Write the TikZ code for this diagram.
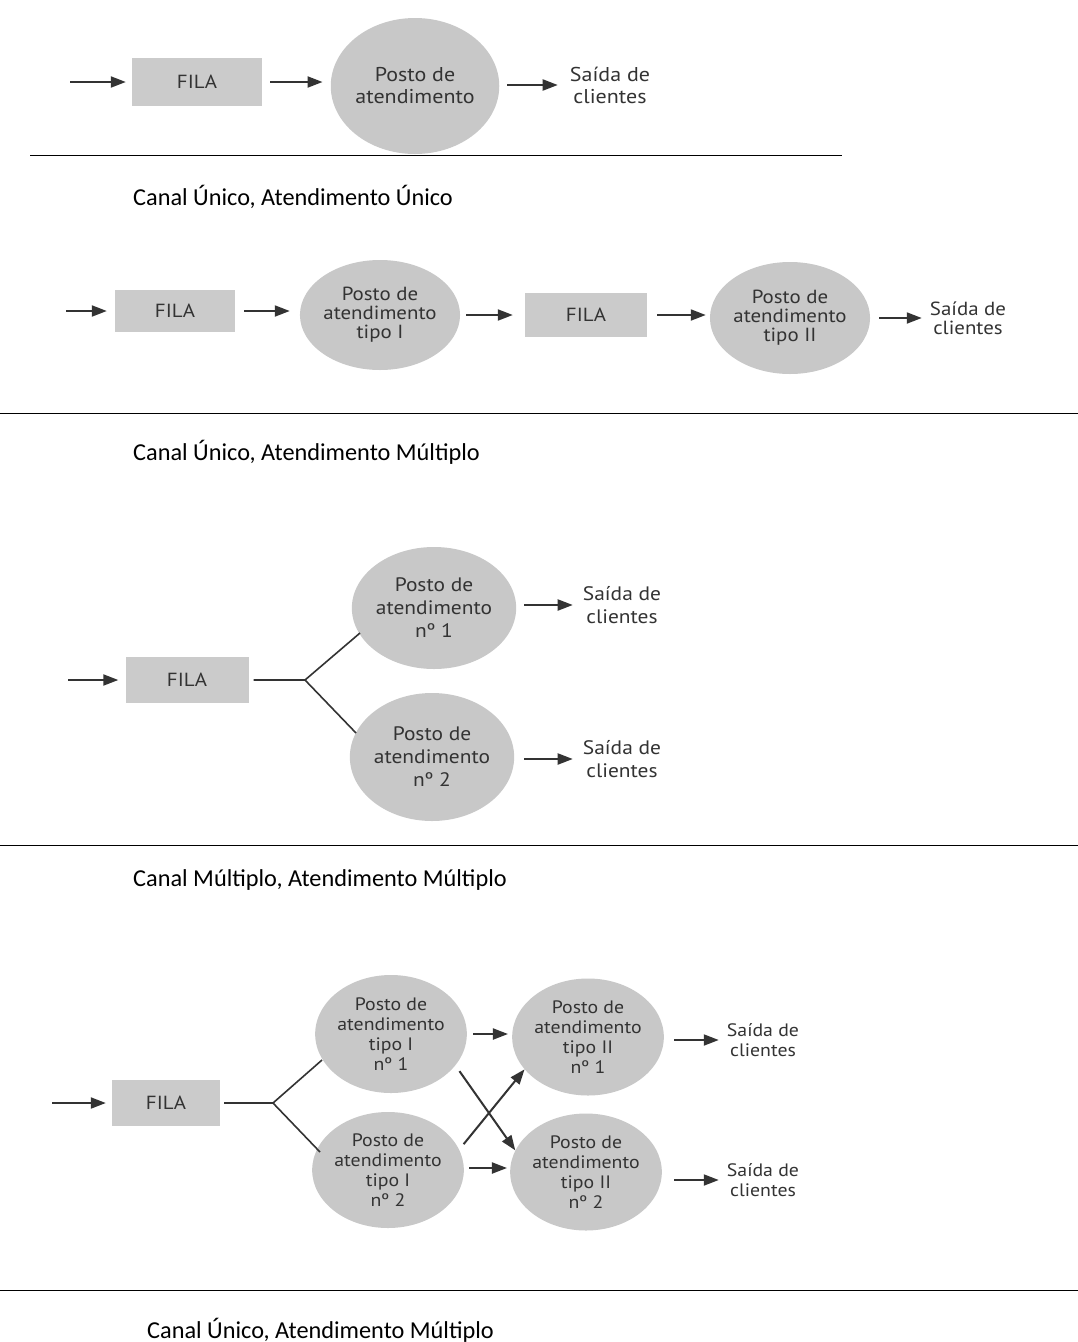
\documentclass[tikz,border=0pt]{standalone}
\usepackage{fontspec}
\setmainfont{Carlito}
\newfontfamily\dfont[FakeStretch=1.1]{PT Sans}
\usetikzlibrary{arrows.meta,shapes.geometric}
\definecolor{boxgray}{HTML}{CBCBCB}
\definecolor{ellgray}{HTML}{C8C8C8}
\definecolor{ink}{HTML}{333333}
\tikzset{
  x=1pt,y=-1pt,
  fila/.style={fill=boxgray,draw=none,inner sep=0pt,font=\dfont\fontsize{19}{20}\selectfont,text=ink},
  posto/.style={ellipse,fill=ellgray,draw=none,inner sep=0pt,align=center,text=ink},
  saida/.style={align=center,text=ink,inner sep=0pt},
  ftA/.style={font=\dfont\fontsize{20}{22}\selectfont},
  ftB/.style={font=\dfont\fontsize{19}{19}\selectfont},
  ftC/.style={font=\dfont\fontsize{19.5}{23}\selectfont},
  ftD/.style={font=\dfont\fontsize{18}{20}\selectfont},
  flow/.style={draw=ink,line width=2pt,-{Triangle[length=15pt,width=11pt]}},
  branch/.style={draw=ink,line width=1.6pt},
  sep/.style={draw=black,line width=1pt},
  caption/.style={anchor=west,font=\fontsize{24.3}{27}\selectfont,inner sep=0pt}
}
\begin{document}
\begin{tikzpicture}
\useasboundingbox (0,0) rectangle (1078,1342);
\fill[white] (0,0) rectangle (1078,1342);
% ---------- Diagram 1: Canal Unico, Atendimento Unico
\coordinate (s1) at (70,82);
\node[fila,minimum width=130pt,minimum height=48pt] (f1) at (197,82) {FILA};
\node[posto,ftA,minimum width=154pt,minimum height=136pt] (p1) at (415,86) {Posto de\\atendimento};
\node[saida,ftA] (o1) at (610,85) {Saída de\\clientes};
\draw[flow] (s1) -- ([xshift=-6pt]f1.west);
\draw[flow] ([xshift=8pt]f1.east) -- ([xshift=-8pt]f1.east -| p1.west);
\draw[flow] ([xshift=8pt]o1.west -| p1.east) -- ([xshift=-12pt]o1.west);
\draw[sep] (30,155) -- (842,155);
\node[caption] (c1) at (133,197) {Canal Único, Atendimento Único};
% ---------- Diagram 2: Canal Unico, Atendimento Multiplo
\coordinate (s2) at (66,311);
\node[fila,minimum width=120pt,minimum height=42pt] (f2a) at (175,311) {FILA};
\node[posto,ftB,minimum width=144pt,minimum height=110pt] (p2a) at (380,315) {Posto de\\atendimento\\tipo I};
\node[fila,minimum width=122pt,minimum height=44pt] (f2b) at (586,315) {FILA};
\node[posto,ftB,minimum width=144pt,minimum height=112pt] (p2b) at (790,318) {Posto de\\atendimento\\tipo II};
\node[saida,ftB] (o2) at (968,318) {Saída de\\clientes};
\draw[flow] (s2) -- ([xshift=-8pt]f2a.west);
\draw[flow] ([xshift=9pt]f2a.east) -- ([xshift=-10pt]f2a.east -| p2a.west);
\draw[flow] ([xshift=6pt]f2b.west -| p2a.east) -- ([xshift=-12pt]f2b.west);
\draw[flow] ([xshift=10pt]f2b.east) -- ([xshift=-4pt]f2b.east -| p2b.west);
\draw[flow] ([xshift=9pt]o2.west -| p2b.east) -- ([xshift=-8pt]o2.west);
\draw[sep] (0,413) -- (1078,413);
\node[caption] (c2) at (133,452) {Canal Único, Atendimento Múltiplo};
% ---------- Diagram 3: Canal Multiplo, Atendimento Multiplo
\coordinate (s3) at (68,680);
\node[fila,minimum width=123pt,minimum height=46pt] (f3) at (187,680) {FILA};
\node[posto,ftC,minimum width=146pt,minimum height=122pt] (p3a) at (434,608) {Posto de\\atendimento\\nº 1};
\node[posto,ftC,minimum width=146pt,minimum height=128pt] (p3b) at (432,757) {Posto de\\atendimento\\nº 2};
\node[saida,ftC] (o3a) at (622,605) {Saída de\\clientes};
\node[saida,ftC] (o3b) at (622,759) {Saída de\\clientes};
\coordinate (fk3) at (305,680);
\coordinate (e3a) at (360,633);
\coordinate (e3b) at (356,733);
\draw[flow] (s3) -- ([xshift=-7pt]f3.west);
\draw[branch] ([xshift=5pt]f3.east) -- (fk3) -- (e3a);
\draw[branch] (fk3) -- (e3b);
\draw[flow] ([xshift=8pt]o3a.west -| p3a.east) -- ([xshift=-10pt]o3a.west);
\draw[flow] ([xshift=10pt]o3b.west -| p3b.east) -- ([xshift=-10pt]o3b.west);
\draw[sep] (0,845) -- (1078,845);
\node[caption] (c3) at (133,880) {Canal Múltiplo, Atendimento Múltiplo};
% ---------- Diagram 4: Canal Unico, Atendimento Multiplo
\coordinate (s4) at (52,1103);
\node[fila,minimum width=108pt,minimum height=46pt] (f4) at (166,1103) {FILA};
\node[posto,ftD,minimum width=132pt,minimum height=118pt] (p4a) at (391,1034) {Posto de\\atendimento\\tipo I\\nº 1};
\node[posto,ftD,minimum width=133pt,minimum height=116pt] (p4b) at (388,1170) {Posto de\\atendimento\\tipo I\\nº 2};
\node[posto,ftD,minimum width=133pt,minimum height=117pt] (p4c) at (588,1037) {Posto de\\atendimento\\tipo II\\nº 1};
\node[posto,ftD,minimum width=132pt,minimum height=117pt] (p4d) at (586,1172) {Posto de\\atendimento\\tipo II\\nº 2};
\node[saida,ftD] (o4a) at (763,1040) {Saída de\\clientes};
\node[saida,ftD] (o4b) at (763,1180) {Saída de\\clientes};
\coordinate (fk4) at (273,1103);
\coordinate (e4a) at (322,1060);
\coordinate (e4b) at (320,1152);
\draw[flow] (s4) -- ([xshift=-6pt]f4.west);
\draw[branch] ([xshift=4pt]f4.east) -- (fk4) -- (e4a);
\draw[branch] (fk4) -- (e4b);
\draw[flow] ([xshift=6pt]p4a.east) -- ([xshift=-4pt]p4a.east -| p4c.west);
\draw[flow] ([xshift=5pt,yshift=2pt]p4b.east) -- ([xshift=-3pt,yshift=2pt]p4b.east -| p4d.west);
\draw[flow,shorten <=7pt] (p4a.-26) -- (p4d.163);
\draw[flow,shorten <=7pt] (p4b.16) -- (p4c.207);
\draw[flow] ([xshift=10pt]o4a.west -| p4c.east) -- ([xshift=-8pt]o4a.west);
\draw[flow] ([xshift=12pt]o4b.west -| p4d.east) -- ([xshift=-8pt]o4b.west);
\draw[sep] (0,1290) -- (1078,1290);
\node[caption] (c4) at (147,1330) {Canal Único, Atendimento Múltiplo};
\end{tikzpicture}
\end{document}
